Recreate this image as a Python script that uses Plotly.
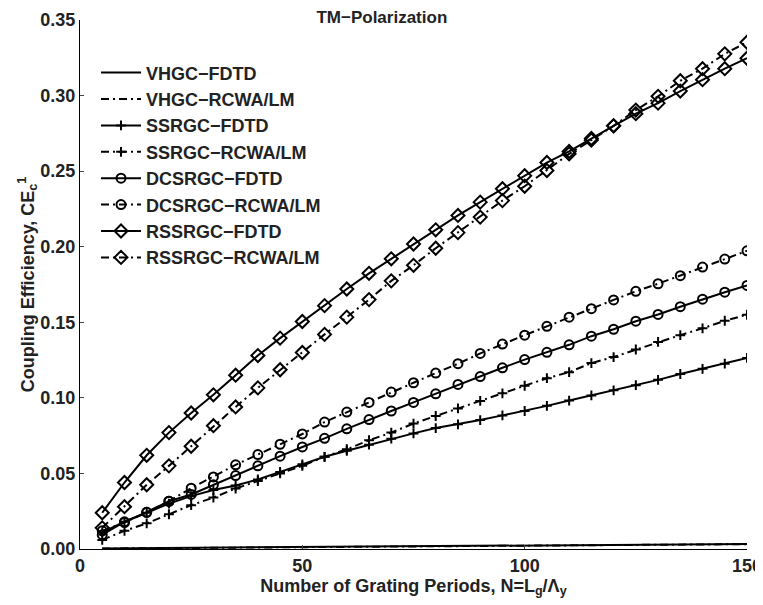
import plotly.graph_objects as go

N = [5, 10, 15, 20, 25, 30, 35, 40, 45, 50, 55, 60, 65, 70, 75, 80, 85, 90, 95, 100,
     105, 110, 115, 120, 125, 130, 135, 140, 145, 150]

vhgc_fdtd = [0.0004, 0.0005, 0.0006, 0.0007, 0.0008, 0.0009, 0.0010, 0.0011, 0.0012, 0.0013,
             0.0014, 0.0015, 0.0016, 0.0017, 0.0018, 0.0019, 0.0020, 0.0021, 0.0022, 0.0023,
             0.0024, 0.0025, 0.0026, 0.0027, 0.0028, 0.0029, 0.0030, 0.0031, 0.0032, 0.0033]
vhgc_rcwa = [0.0003, 0.0004, 0.0005, 0.0006, 0.0007, 0.0008, 0.0009, 0.0010, 0.0011, 0.0012,
             0.0013, 0.0014, 0.0015, 0.0016, 0.0017, 0.0018, 0.0019, 0.0020, 0.0021, 0.0022,
             0.0023, 0.0024, 0.0025, 0.0026, 0.0027, 0.0028, 0.0029, 0.0030, 0.0031, 0.0032]
ssrgc_fdtd = [0.011, 0.018, 0.024, 0.030, 0.035, 0.039, 0.042, 0.046, 0.051, 0.056,
              0.061, 0.065, 0.069, 0.073, 0.0765, 0.080, 0.0825, 0.0853, 0.0884, 0.0913,
              0.0947, 0.0982, 0.1016, 0.105, 0.1084, 0.1119, 0.1158, 0.1192, 0.1226, 0.1264]
ssrgc_rcwa = [0.006, 0.012, 0.017, 0.023, 0.029, 0.034, 0.040, 0.045, 0.050, 0.055,
              0.061, 0.066, 0.072, 0.077, 0.083, 0.088, 0.093, 0.098, 0.103, 0.108,
              0.113, 0.117, 0.123, 0.127, 0.132, 0.137, 0.1415, 0.146, 0.151, 0.155]
dcsrgc_fdtd = [0.0095, 0.018, 0.0243, 0.0316, 0.0361, 0.0425, 0.0486, 0.055, 0.0614, 0.0675,
               0.0732, 0.0795, 0.0856, 0.0913, 0.097, 0.1027, 0.1089, 0.1141, 0.1199, 0.1253,
               0.1301, 0.1351, 0.1408, 0.1454, 0.1507, 0.1552, 0.1603, 0.1653, 0.1699, 0.1744]
dcsrgc_rcwa = [0.012, 0.0175, 0.0243, 0.0316, 0.0402, 0.0477, 0.0557, 0.0625, 0.0693, 0.0761,
               0.084, 0.0906, 0.097, 0.1038, 0.110, 0.1164, 0.1226, 0.1294, 0.1356, 0.1415,
               0.1473, 0.1534, 0.159, 0.1648, 0.1705, 0.1755, 0.1808, 0.1865, 0.1918, 0.1973]
rssrgc_fdtd = [0.024, 0.044, 0.062, 0.077, 0.090, 0.102, 0.115, 0.128, 0.1395, 0.1505,
               0.161, 0.172, 0.1824, 0.192, 0.2018, 0.2112, 0.2207, 0.2295, 0.2384, 0.247,
               0.2557, 0.263, 0.2716, 0.280, 0.288, 0.295, 0.303, 0.3105, 0.3178, 0.3247]
rssrgc_rcwa = [0.014, 0.028, 0.0425, 0.055, 0.068, 0.0816, 0.094, 0.1066, 0.1186, 0.130,
               0.142, 0.1534, 0.165, 0.1774, 0.1877, 0.199, 0.2093, 0.2196, 0.2305, 0.240,
               0.2504, 0.2614, 0.2705, 0.280, 0.2904, 0.2995, 0.3098, 0.3178, 0.3276, 0.3353]

names = ["VHGC\u2212FDTD", "VHGC\u2212RCWA/LM", "SSRGC\u2212FDTD", "SSRGC\u2212RCWA/LM",
         "DCSRGC\u2212FDTD", "DCSRGC\u2212RCWA/LM", "RSSRGC\u2212FDTD", "RSSRGC\u2212RCWA/LM"]
series = [vhgc_fdtd, vhgc_rcwa, ssrgc_fdtd, ssrgc_rcwa, dcsrgc_fdtd, dcsrgc_rcwa,
          rssrgc_fdtd, rssrgc_rcwa]
symbols = [None, None, "cross-thin-open", "cross-thin-open", "circle-open", "circle-open",
           "diamond-open", "diamond-open"]
sizes = [0, 0, 7, 7, 9, 9, 10, 10]
dashdot = "8px,4px,2px,4px"

FONT = "Liberation Sans, Arial, Helvetica, sans-serif"
TXT = "#222222"

fig = go.Figure()
for i, (nm, ys) in enumerate(zip(names, series)):
    dash = "solid" if i % 2 == 0 else dashdot
    if symbols[i] is None:
        fig.add_trace(go.Scatter(x=N, y=ys, name=nm, mode="lines",
                                 line=dict(color="black", width=2, dash=dash)))
    else:
        fig.add_trace(go.Scatter(x=N, y=ys, name=nm, mode="lines+markers",
                                 line=dict(color="black", width=2, dash=dash),
                                 marker=dict(symbol=symbols[i], size=sizes[i], color="black",
                                             line=dict(color="black", width=2))))

fig.update_layout(
    width=763, height=605,
    margin=dict(l=72, r=24, t=12, b=64, autoexpand=False),
    paper_bgcolor="white", plot_bgcolor="white",
    font=dict(family=FONT, size=18, color=TXT, weight="bold"),
    title=dict(text="TM\u2212Polarization", x=0.49, xanchor="center", y=0.985, yanchor="middle",
               font=dict(size=17, weight="bold", family=FONT, color=TXT)),
    showlegend=True,
    legend=dict(x=0.024, y=0.935, xanchor="left", yanchor="top", bgcolor="rgba(0,0,0,0)",
                font=dict(size=18, weight="bold", family=FONT, color=TXT),
                tracegroupgap=0, itemwidth=40),
    xaxis=dict(range=[0, 150], tickvals=[0, 50, 100, 150], ticks="inside", ticklen=4,
               showline=True, linecolor="black", linewidth=1, showgrid=False, zeroline=False,
               ticklabeloverflow="allow", automargin=False,
               tickfont=dict(size=18, weight="bold", family=FONT, color=TXT),
               title=dict(text="Number of Grating Periods, N=L<sub>g</sub>/\u039b<sub>y</sub>",
                          standoff=0, font=dict(size=18, weight="bold", family=FONT, color=TXT))),
    yaxis=dict(range=[0, 0.35], tickvals=[0, 0.05, 0.10, 0.15, 0.20, 0.25, 0.30, 0.35],
               tickformat=".2f", ticks="inside", ticklen=4,
               showline=True, linecolor="black", linewidth=1, showgrid=False, zeroline=False,
               ticklabeloverflow="allow", automargin=False,
               tickfont=dict(size=18, weight="bold", family=FONT, color=TXT),
               title=dict(text="Coupling Efficiency, CE<sub>c</sub><sup>1</sup>",
                          standoff=0, font=dict(size=18, weight="bold", family=FONT, color=TXT))),
)

fig.write_html("out.html")
